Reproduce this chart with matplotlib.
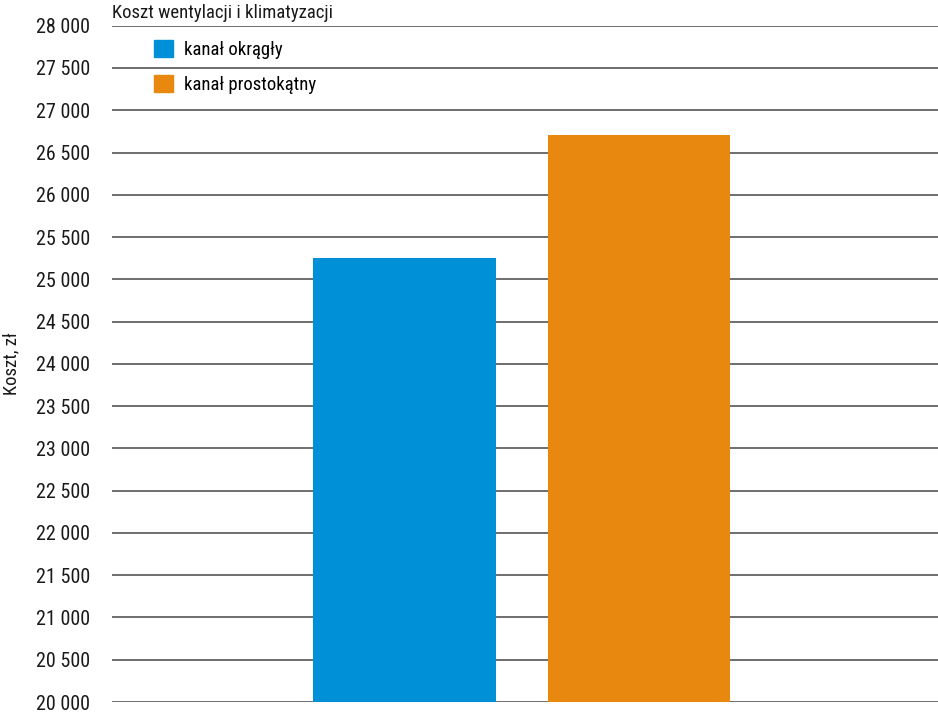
import matplotlib.pyplot as plt
from matplotlib.patches import Patch

plt.rcParams['font.family'] = ['Roboto Condensed', 'Archivo Narrow', 'Barlow Semi Condensed', 'DejaVu Sans']
plt.rcParams['font.stretch'] = 'condensed'

# dane
series = ['kanał okrągły', 'kanał prostokątny']
values = [25255, 26705]
colors = ['#0090d7', '#e8880f']
yticks = list(range(20000, 28001, 500))
ytick_labels = ['{:,}'.format(v).replace(',', ' ') for v in yticks]

fs = 13.5
fig = plt.figure(figsize=(9.38, 7.14), dpi=100)
ax = fig.add_axes([112 / 938, 1 - 702 / 714, 826 / 938, (702 - 25.7) / 714])

x = list(range(len(series)))
ax.bar(x, values, width=0.78, color=colors, zorder=3)

ax.set_ylim(20000, 28000)
ax.set_xlim(-1.25, 2.277)
ax.set_yticks(yticks)
ax.set_yticklabels(ytick_labels, fontsize=14.5, color='#1a1a1a')
ax.set_xticks([])
ax.tick_params(axis='y', length=0, pad=15.5)
ax.grid(axis='y', color='#555555', linewidth=1.2, zorder=1)
for s in ax.spines.values():
    s.set_visible(False)

ax.set_ylabel('Koszt, zł', fontsize=fs, color='#1a1a1a')
ax.yaxis.set_label_coords(-0.111, 0.5)

fig.text(112 / 938, 1 - 13 / 714, 'Koszt wentylacji i klimatyzacji',
         fontsize=fs, color='#1a1a1a', va='center', ha='left')

handles = [Patch(color=c, label=s) for c, s in zip(colors, series)]
fig.legend(handles=handles, loc='upper left', bbox_to_anchor=(154 / 938, 1 - 40 / 714),
           frameon=False, fontsize=fs, handlelength=1.0, handleheight=1.0,
           handletextpad=0.6, labelspacing=0.85, borderpad=0, borderaxespad=0)

fig.savefig('out.png', dpi=100)
